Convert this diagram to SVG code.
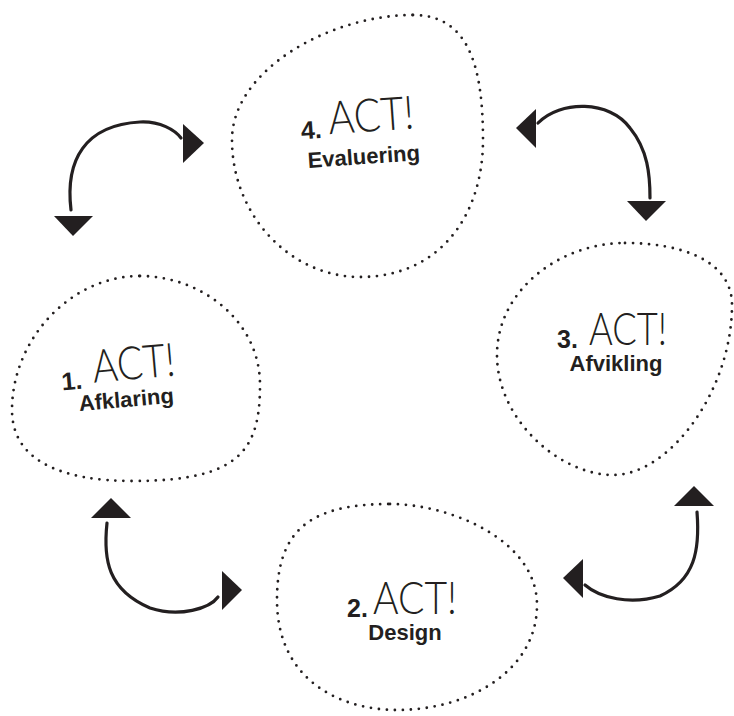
<svg xmlns="http://www.w3.org/2000/svg" width="734" height="716" viewBox="0 0 734 716">
<style>
.blob{fill:none;stroke:#231f20;stroke-width:2.8;stroke-linecap:round;stroke-dasharray:0 8}
.arc{fill:none;stroke:#231f20;stroke-width:3.2;stroke-linecap:round}
.head{fill:#231f20}
.num{font-family:"Liberation Sans",Arial,sans-serif;font-weight:bold;font-size:25px;fill:#231f20}
.act{font-family:Lato,"Open Sans",sans-serif;font-weight:300;font-size:46px;fill:#231f20}
.lbl{font-family:"Liberation Sans",Arial,sans-serif;font-weight:bold;font-size:22px;fill:#231f20;text-anchor:middle}
</style>
<rect width="734" height="716" fill="#ffffff"/>
<g id="node-evaluering">
<path class="blob" d="M413,15 C468,15 483,65 483,140 C483,215 440,277 360,277 C290,277 232,215 232,140 C232,70 330,15 413,15 Z"/>
<g transform="rotate(-4 363 145)">
<text class="num" x="302" y="135">4.</text>
<text class="act" x="330" y="132" textLength="86" lengthAdjust="spacingAndGlyphs">ACT!</text>
<text class="lbl" x="363" y="164">Evaluering</text>
</g>
</g>
<g id="node-afklaring">
<path class="blob" d="M140,276 C200,276 260,320 260,385 C260,450 240,481 133,481 C60,481 12,460 12,410 C12,340 70,276 140,276 Z"/>
<g transform="rotate(-5 125 385)">
<text class="num" x="62" y="385">1.</text>
<text class="act" x="94" y="380" textLength="83" lengthAdjust="spacingAndGlyphs">ACT!</text>
<text class="lbl" x="125" y="407">Afklaring</text>
</g>
</g>
<g id="node-afvikling">
<path class="blob" d="M625,243 C680,243 732,260 732,305 C732,390 670,475 613,475 C560,475 497,420 497,355 C497,290 560,243 625,243 Z"/>
<text class="num" x="557" y="348">3.</text>
<text class="act" x="589" y="345" textLength="78" lengthAdjust="spacingAndGlyphs">ACT!</text>
<text class="lbl" x="616" y="371">Afvikling</text>
</g>
<g id="node-design">
<path class="blob" d="M390,504 C450,504 537,540 537,605 C537,670 470,710 397,710 C340,710 277,680 277,600 C277,530 310,504 390,504 Z"/>
<text class="num" x="347" y="617">2.</text>
<text class="act" x="373" y="614" textLength="84" lengthAdjust="spacingAndGlyphs">ACT!</text>
<text class="lbl" x="405" y="640">Design</text>
</g>
<g id="connectors">
<path class="arc" d="M71,210 C65,160 85,125 140,122 C160,121 175,130 181,138"/>
<polygon class="head" points="183,124 183,163 204,143"/>
<polygon class="head" points="54,216 93,216 73,236"/>
<path class="arc" d="M538,123 C560,100 610,100 630,128 C648,150 650,175 650,198"/>
<polygon class="head" points="536,109 536,148 516,128"/>
<polygon class="head" points="627,201 666,201 646,221"/>
<path class="arc" d="M107,523 C103,560 108,590 150,608 C180,618 210,608 218,597"/>
<polygon class="head" points="91,518 131,518 111,498"/>
<polygon class="head" points="222,571 222,610 242,590"/>
<path class="arc" d="M697,512 C700,550 695,580 660,596 C630,605 600,598 585,585"/>
<polygon class="head" points="674,506 714,506 694,486"/>
<polygon class="head" points="583,559 583,598 563,578"/>
</g>
</svg>
